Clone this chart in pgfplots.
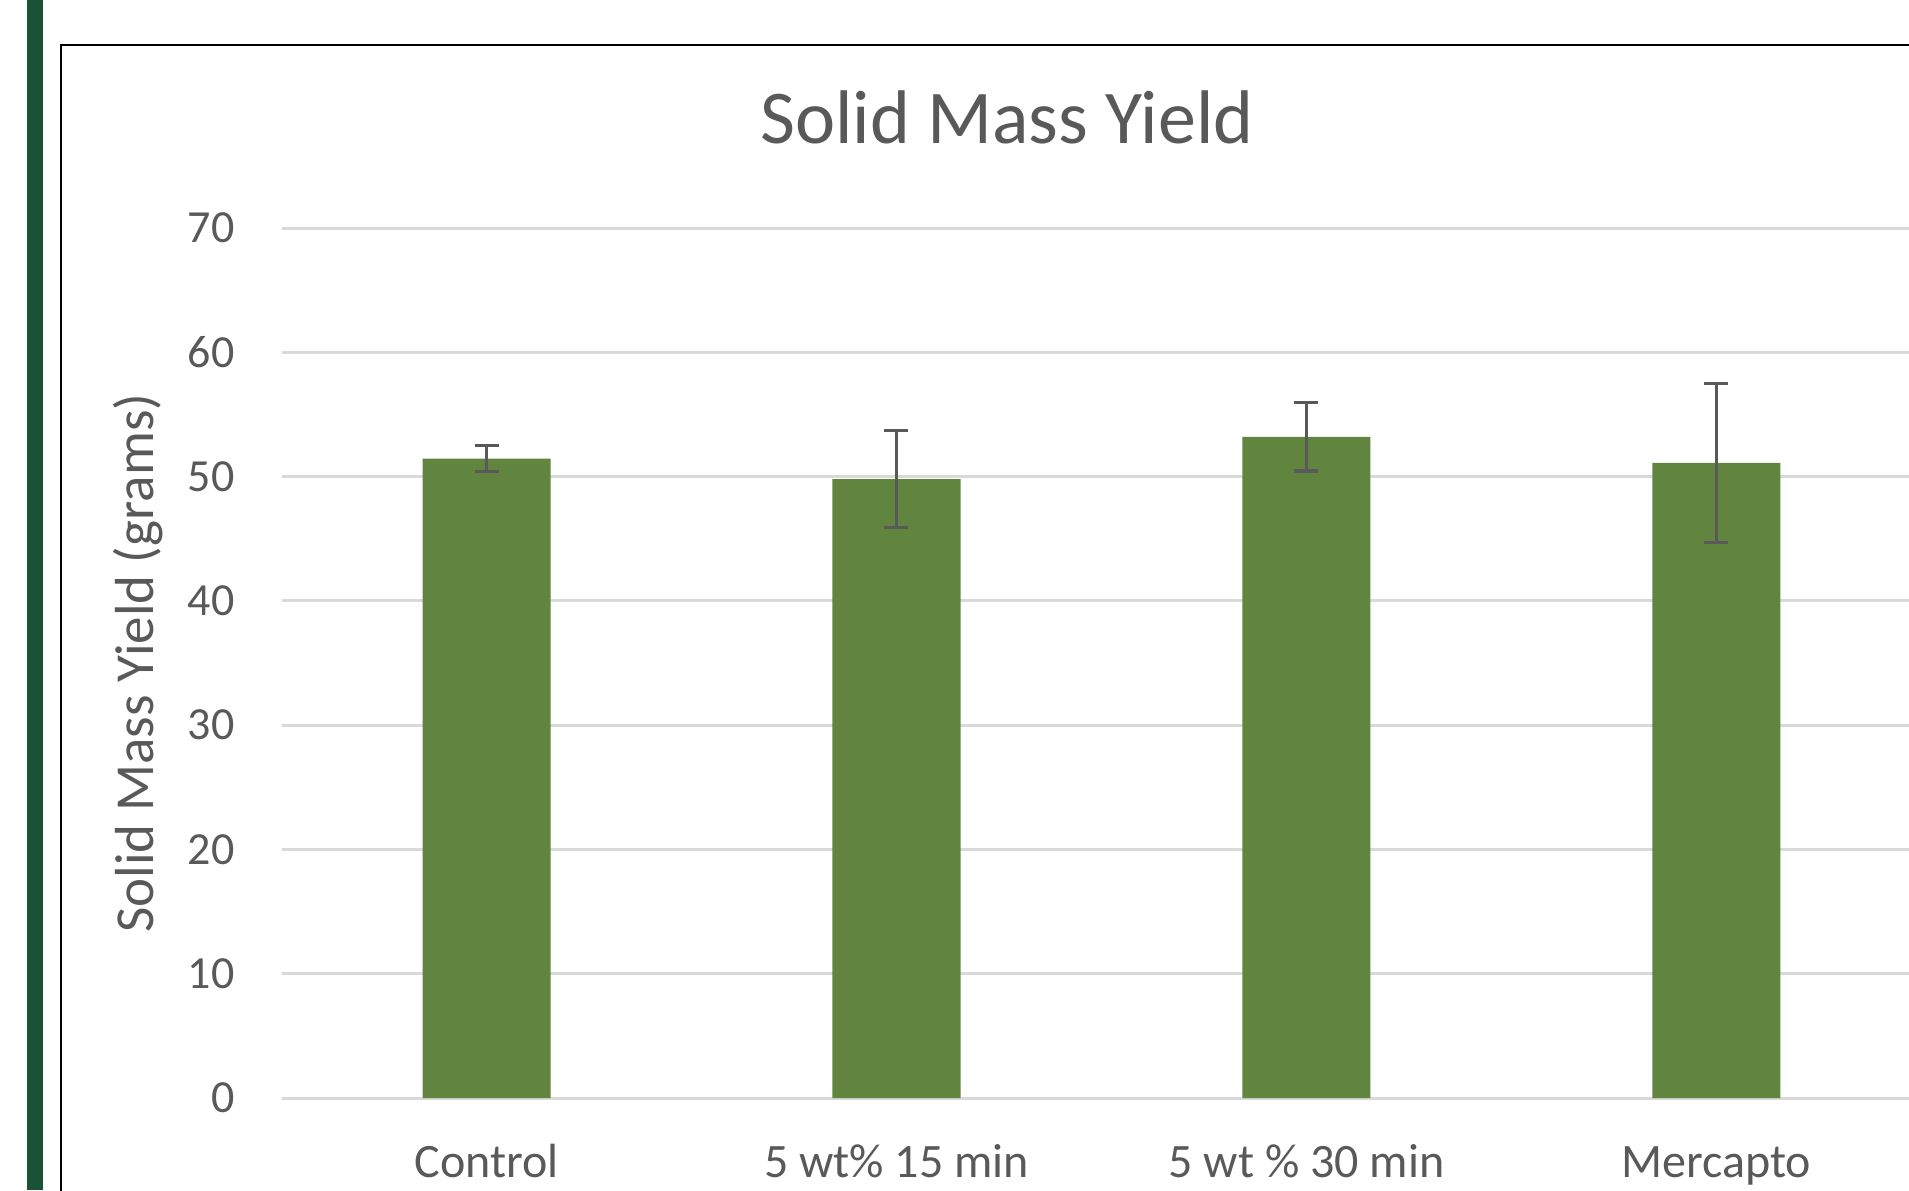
\documentclass[border=0pt]{standalone}
\usepackage{fontspec}
\setmainfont{Carlito}
\usepackage{pgfplots}
\pgfplotsset{compat=1.18}
\definecolor{barg}{HTML}{61843F}
\definecolor{txt}{HTML}{595959}
\definecolor{grd}{HTML}{D9D9D9}
\definecolor{errc}{HTML}{595959}
\definecolor{stripe}{HTML}{1A5236}
\begin{document}
\begin{tikzpicture}
\useasboundingbox (0,0) rectangle (954.5pt,595pt);
\clip (0,0) rectangle (954.5pt,595pt);
\fill[stripe] (13.5pt,0) rectangle (21.5pt,595pt);
\draw[black, line width=1pt] (30.5pt,-5pt) -- (30.5pt,572.5pt) -- (970pt,572.5pt);
\node[anchor=base, font=\fontsize{38pt}{44pt}\selectfont, text=txt] at (503.5pt,523pt) {Solid Mass Yield};
\begin{axis}[
  at={(140.8pt,46pt)}, anchor=south west,
  scale only axis, width=813.7pt, height=435pt,
  xmin=-0.5, xmax=3.47, ymin=0, ymax=70,
  ytick={0,10,...,70},
  xtick={0,1,2,3},
  xticklabels={Control, 5 wt\% 15 min, 5 wt \% 30 min, Mercapto},
  axis line style={draw=none},
  major tick length=0pt,
  ymajorgrids, grid style={grd, line width=1.5pt},
  /pgf/number format/assume math mode=true,
  yticklabel style={font=\fontsize{23pt}{27pt}\selectfont, text=txt, anchor=east, inner sep=0pt, xshift=-23.3pt},
  xticklabel style={font=\fontsize{24pt}{28pt}\selectfont, text=txt, anchor=base, inner sep=0pt, yshift=-39.5pt},
  ylabel={Solid Mass Yield (grams)},
  ylabel style={font=\fontsize{27.5pt}{32pt}\selectfont, text=txt, at={(axis description cs:-0.0882,0.5)}, anchor=center},
  clip=false,
]
\addplot[ybar, bar width=64pt, fill=barg, draw=none,
  error bars/.cd, y dir=both, y explicit,
  error bar style={line width=1.6pt, color=errc},
  error mark options={rotate=90, mark size=6pt, line width=1.6pt, color=errc}]
  coordinates {
   (0,51.45) +- (0,1.05)
   (1,49.8) +- (0,3.9)
   (2,53.2) +- (0,2.75)
   (3,51.1) +- (0,6.4)
  };
\end{axis}
\end{tikzpicture}
\end{document}
